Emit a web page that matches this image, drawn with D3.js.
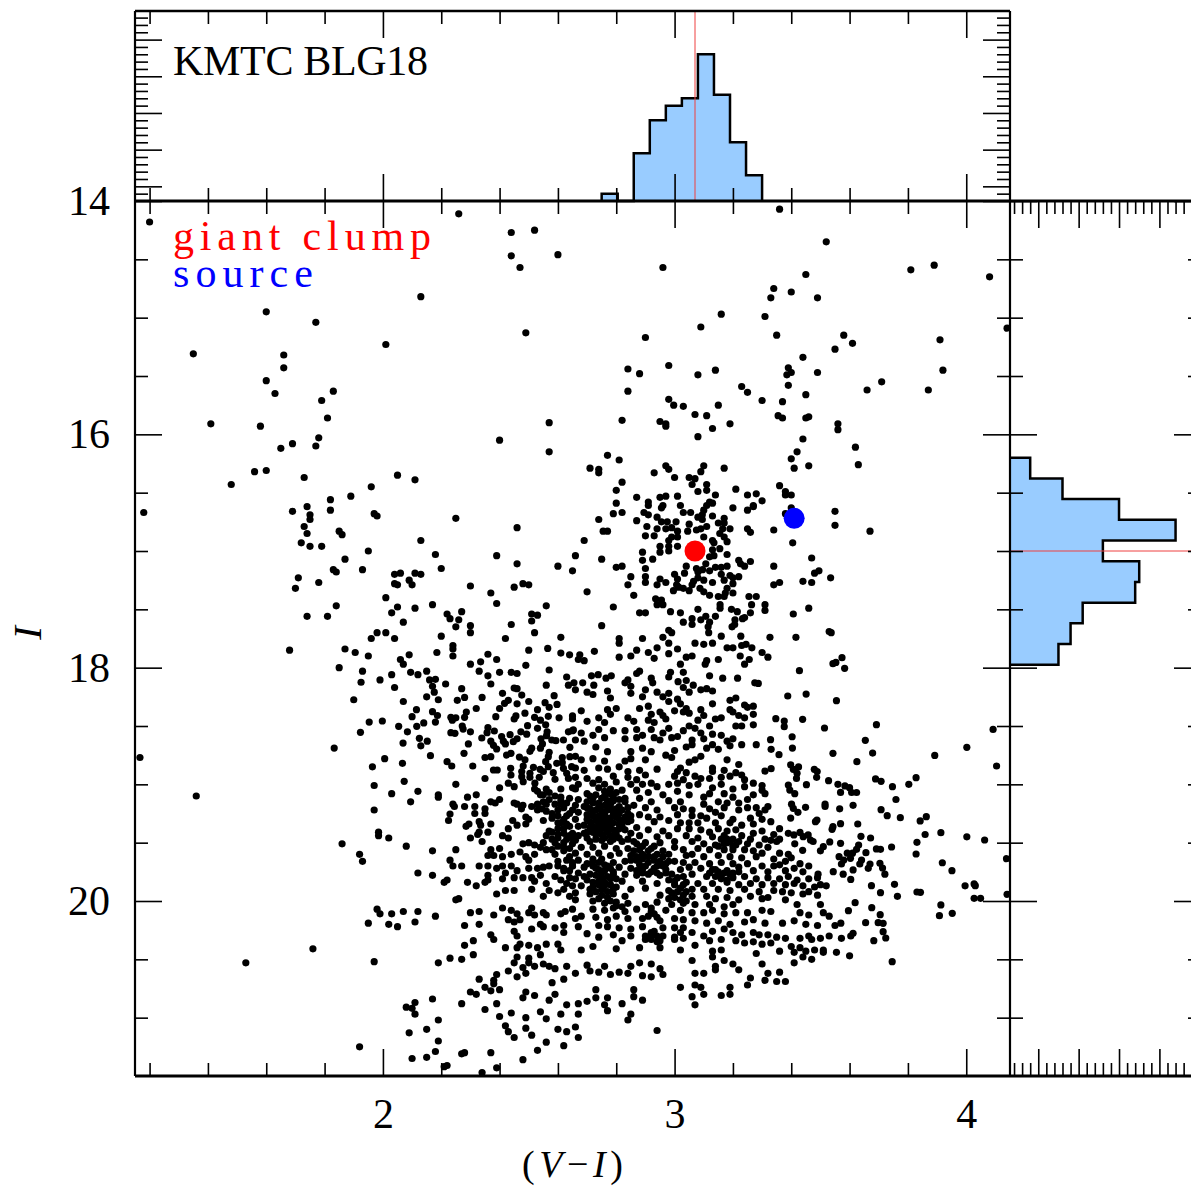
<!DOCTYPE html>
<html>
<head>
<meta charset="utf-8">
<script src="https://cdn.jsdelivr.net/npm/d3@7"></script>
<style>
body { margin: 0; background: #fff; overflow: hidden; }
text { font-family: "Liberation Serif", serif; }
</style>
</head>
<body>
<div id="chart"></div>
<script>
// colour-magnitude diagram, values as [V-I, I]
var brightStars = [[1.20,14.18],[2.26,14.11],[2.44,14.27],[2.52,14.25],[2.44,14.47],[2.47,14.57],[2.60,14.46],[2.13,14.82],[1.60,14.95],[1.77,15.04],[2.49,15.13],[2.01,15.23],[1.35,15.31],[1.66,15.32],[1.66,15.43],[1.60,15.54],[1.63,15.65],[1.83,15.63],[1.79,15.71],[1.81,15.86],[1.41,15.91],[1.58,15.93],[2.57,15.90],[2.40,16.05],[1.78,16.03],[1.69,16.08],[1.77,16.10],[1.65,16.12],[2.57,16.15],[1.56,16.32],[1.60,16.31],[1.48,16.43],[1.73,16.37],[2.05,16.35],[2.11,16.39],[1.96,16.45],[1.89,16.53],[1.82,16.56],[1.18,16.67],[1.69,16.66],[1.74,16.62],[1.82,16.65],[1.75,16.69],[1.75,16.73],[1.97,16.68],[1.98,16.70],[2.25,16.72],[1.73,16.79],[1.74,16.85],[1.85,16.83],[1.86,16.86],[2.46,16.80],[2.13,16.91],[1.72,16.93],[1.75,16.96],[1.79,16.96],[1.95,17.00],[2.18,17.03],[2.39,17.04],[1.87,17.07],[2.46,17.11],[2.20,17.15],[2.60,17.13],[2.65,17.17],[2.66,17.04],[1.93,17.16],[1.83,17.16],[1.84,17.18],[1.71,17.23],[1.78,17.27],[1.70,17.32],[2.04,17.20],[2.06,17.19],[2.11,17.19],[2.13,17.20],[2.09,17.25],[2.04,17.28],[2.05,17.29],[2.10,17.29],[2.30,17.30],[2.37,17.36],[2.45,17.31],[2.48,17.28],[2.50,17.29],[2.01,17.40],[2.39,17.45],[1.84,17.47],[2.05,17.48],[2.11,17.49],[2.17,17.46],[2.56,17.47],[1.74,17.56],[1.81,17.56],[2.03,17.53],[2.22,17.54],[2.27,17.52],[2.23,17.58],[2.26,17.59],[2.51,17.54],[2.53,17.55],[2.51,17.60],[2.07,17.61],[2.30,17.64],[2.25,17.65],[2.44,17.63],[1.98,17.70],[2.01,17.70],[2.30,17.70],[2.52,17.70],[2.20,17.73],[2.04,17.75],[1.96,17.75],[2.42,17.75],[2.61,17.74]];

var clumpStars = [[3.36,14.07],[3.52,14.35],[2.96,14.57],[3.81,14.59],[3.89,14.55],[4.08,14.65],[3.45,14.63],[3.34,14.75],[3.40,14.78],[3.33,14.83],[3.49,14.83],[4.14,15.09],[3.16,14.97],[3.31,14.99],[3.09,15.08],[3.35,15.15],[2.90,15.17],[3.58,15.15],[3.61,15.22],[3.55,15.27],[3.91,15.19],[3.44,15.34],[2.84,15.44],[2.98,15.41],[2.88,15.48],[3.08,15.49],[3.14,15.45],[3.39,15.43],[3.40,15.47],[3.385,15.49],[3.49,15.47],[3.92,15.45],[3.71,15.55],[2.84,15.63],[3.23,15.59],[3.25,15.64],[3.39,15.58],[3.66,15.62],[3.87,15.62],[3.45,15.66],[2.98,15.70],[3.30,15.71],[3.37,15.72],[2.997,15.75],[3.03,15.76],[3.15,15.75],[3.07,15.83],[3.11,15.84],[3.355,15.84],[3.37,15.86],[3.45,15.86],[3.46,15.85],[2.82,15.88],[2.95,15.89],[2.97,15.91],[2.97,15.93],[3.19,15.91],[3.13,15.95],[3.56,15.91],[3.56,15.96],[3.08,16.02],[3.44,16.04],[3.62,16.11],[3.42,16.15],[3.40,16.21],[2.77,16.18],[2.81,16.22],[2.71,16.29],[2.74,16.30],[2.74,16.33],[2.97,16.27],[2.98,16.30],[2.93,16.33],[3.10,16.27],[3.09,16.32],[3.17,16.29],[3.46,16.27],[3.41,16.29],[3.63,16.26],[3.00,16.37],[3.05,16.37],[3.07,16.38],[3.06,16.43],[2.82,16.41],[3.11,16.43],[3.36,16.44],[2.80,16.48],[3.11,16.48],[3.08,16.49],[3.21,16.47],[3.38,16.49],[3.38,16.52],[3.40,16.52],[3.25,16.52],[3.28,16.51],[3.01,16.53],[3.14,16.52],[2.87,16.54],[2.95,16.54],[2.97,16.53],[3.30,16.57],[2.80,16.59],[2.91,16.58],[2.91,16.61],[2.96,16.61],[2.955,16.63],[3.12,16.58],[3.13,16.59],[3.11,16.61],[3.02,16.61],[3.27,16.61],[3.27,16.62],[3.20,16.63],[3.25,16.65],[3.40,16.63],[3.55,16.66],[2.82,16.67],[2.79,16.68],[2.895,16.67],[2.91,16.69],[3.03,16.67],[3.055,16.67],[3.10,16.65],[3.095,16.69],[3.38,16.68],[2.94,16.71],[3.08,16.71],[3.13,16.70],[3.17,16.72],[2.74,16.73],[2.87,16.74],[2.955,16.75],[2.975,16.75],[3.005,16.75],[3.05,16.77],[3.095,16.73],[3.15,16.76],[3.17,16.76],[3.55,16.78],[2.905,16.79],[2.94,16.81],[2.97,16.81],[2.99,16.80],[3.075,16.82],[3.09,16.81],[3.11,16.79],[3.165,16.81],[3.19,16.81],[3.25,16.81],[3.34,16.82],[3.67,16.83],[2.755,16.83],[2.77,16.83],[3.01,16.83],[3.045,16.83],[3.26,16.84],[2.90,16.87],[2.93,16.87],[2.99,16.88],[3.01,16.88],[3.10,16.88],[3.155,16.85],[3.17,16.88],[2.69,16.91],[2.98,16.91],[3.13,16.91],[3.18,16.92],[3.405,16.93],[2.95,16.96],[2.98,16.96],[3.01,16.96],[3.135,16.93],[3.155,16.98],[3.13,16.99],[2.89,17.01],[2.95,17.01],[2.98,17.00],[3.18,17.03],[2.75,17.07],[2.89,17.08],[2.925,17.07],[3.12,17.05],[3.135,17.04],[3.47,17.06],[3.22,17.08],[3.26,17.09],[2.80,17.14],[2.82,17.13],[3.04,17.13],[3.107,17.11],[3.18,17.13],[3.226,17.11],[3.24,17.13],[3.34,17.13],[2.90,17.15],[3.075,17.15],[3.096,17.16],[3.14,17.14],[3.16,17.14],[3.12,17.17],[3.495,17.17],[3.48,17.19],[3.034,17.19],[3.00,17.20],[3.08,17.18],[3.16,17.20],[3.19,17.21],[2.85,17.22],[2.90,17.22],[3.22,17.22],[3.535,17.23],[2.95,17.24],[3.01,17.24],[3.08,17.23],[3.10,17.25],[3.17,17.25],[3.20,17.23],[3.44,17.26],[3.36,17.27],[2.84,17.29],[2.90,17.27],[2.94,17.29],[2.97,17.27],[3.065,17.26],[3.13,17.27],[3.20,17.28],[3.34,17.29],[3.47,17.27],[3.007,17.29],[3.06,17.29],[3.014,17.31],[3.03,17.32],[2.996,17.34],[3.05,17.34],[3.087,17.32],[3.18,17.32],[2.70,17.35],[3.10,17.35],[3.20,17.36],[3.174,17.36],[3.12,17.38],[2.86,17.38],[3.15,17.39],[3.17,17.39],[3.255,17.39],[3.28,17.39],[2.935,17.41],[2.955,17.42],[3.264,17.46],[3.31,17.46],[3.156,17.46],[2.94,17.46],[2.96,17.46],[2.79,17.48],[3.156,17.49],[3.195,17.50],[3.46,17.49],[3.08,17.50],[3.215,17.52],[2.986,17.52],[3.02,17.53],[2.88,17.53],[2.90,17.53],[3.26,17.53],[3.31,17.51],[3.407,17.54],[3.14,17.56],[3.107,17.56],[3.09,17.59],[3.06,17.58],[3.24,17.57],[3.233,17.58],[3.207,17.59],[3.03,17.61],[3.06,17.63],[3.12,17.61],[2.75,17.64],[3.206,17.63],[3.197,17.65],[3.115,17.65],[2.98,17.68],[2.99,17.70],[3.117,17.70],[3.53,17.69],[3.537,17.70],[3.16,17.73],[3.227,17.73],[3.327,17.74],[3.416,17.74],[2.81,17.75],[2.89,17.75],[2.96,17.74]];

var faintBlueStars = [[1.68,17.85],[1.87,17.84],[1.905,17.87],[1.95,17.90],[2.09,17.89],[2.06,17.93],[2.07,17.97],[1.85,18.00],[1.93,18.03],[2.15,18.03],[2.185,17.87],[2.24,17.81],[2.24,17.84],[2.24,17.90],[2.30,17.97],[2.335,17.95],[2.36,17.885],[2.39,17.93],[2.50,17.85],[2.565,17.835],[2.61,17.875],[2.64,17.89],[2.49,17.98],[2.33,18.03],[2.40,18.04],[2.44,18.04],[2.46,18.05],[2.57,18.02],[2.095,18.04],[2.12,18.06],[2.03,18.06],[2.36,18.07],[1.99,18.105],[1.925,18.125],[2.16,18.105],[2.18,18.10],[2.215,18.14],[2.37,18.14],[2.56,18.15],[2.63,18.08],[2.636,18.15],[2.04,18.17],[2.17,18.16],[2.27,18.18],[2.45,18.175],[2.46,18.18],[2.176,18.21],[2.41,18.22],[2.476,18.235],[2.587,18.24],[2.15,18.25],[2.28,18.255],[2.34,18.255],[1.90,18.275],[2.19,18.275],[2.255,18.28],[2.07,18.29],[2.43,18.28],[2.417,18.306],[2.46,18.31],[2.50,18.29],[2.556,18.30],[2.597,18.315],[2.40,18.35],[2.32,18.35],[2.57,18.34],[2.115,18.36],[2.53,18.36],[2.17,18.377],[2.286,18.38],[2.487,18.39],[2.187,18.41],[2.10,18.42],[2.28,18.426],[2.387,18.42],[2.456,18.414],[2.45,18.44],[2.52,18.426],[2.567,18.417],[2.604,18.43],[2.65,18.414],[2.233,18.426],[2.25,18.43],[2.238,18.45],[1.953,18.466],[1.998,18.457],[2.14,18.474],[2.18,18.466],[2.54,18.45],[2.054,18.503],[2.116,18.503],[2.272,18.50],[2.496,18.497],[2.558,18.49],[2.275,18.526],[2.36,18.514],[2.53,18.52],[2.084,18.55],[1.923,18.554],[2.233,18.557],[2.247,18.563],[2.30,18.55],[2.357,18.557],[2.382,18.543],[2.473,18.55],[2.563,18.55],[2.636,18.55],[2.653,18.534],[2.493,18.57],[2.436,18.574],[2.561,18.583],[2.339,18.603],[2.407,18.59],[2.46,18.61],[2.125,18.606],[2.542,18.61],[2.579,18.62],[2.619,18.62],[2.37,18.63],[2.413,18.63],[2.447,18.634],[2.593,18.626],[2.152,18.63],[2.069,18.646],[2.293,18.654],[2.379,18.666],[2.42,18.654],[2.547,18.654],[2.13,18.67],[1.833,18.689],[2.39,18.697],[2.51,18.69],[2.54,18.69],[2.641,18.683],[2.424,18.749],[2.439,18.734],[2.278,18.734],[2.504,18.717],[2.57,18.726],[2.163,18.754],[2.35,18.77],[2.37,18.763],[2.468,18.766],[2.567,18.763],[2.615,18.77],[2.641,18.763],[1.167,18.77],[2.006,18.78],[2.487,18.79],[2.22,18.806],[2.558,18.806],[2.596,18.82],[2.615,18.814],[2.067,18.82],[2.236,18.843],[2.308,18.843],[1.964,18.85],[2.516,18.854],[2.481,18.843],[2.567,18.849],[2.438,18.863],[2.379,18.877],[2.392,18.877],[2.539,18.871],[2.619,18.863],[2.647,18.849],[2.476,18.89],[2.504,18.906],[2.55,18.89],[2.439,18.92],[2.584,18.90],[2.63,18.906],[2.476,18.934],[2.504,18.94],[2.35,18.95],[2.536,18.94],[2.59,18.957],[2.636,18.949],[2.073,18.974],[2.481,18.977],[2.43,18.99],[2.521,18.99],[1.97,19.01],[2.25,19.00],[2.40,19.03],[2.45,19.02],[2.52,19.04],[2.56,19.04],[2.61,19.04],[2.65,19.03],[2.12,19.06],[2.03,19.08],[2.19,19.09],[2.19,19.11],[1.36,19.10],[2.32,19.09],[2.29,19.11],[2.095,19.15],[2.40,19.13],[2.37,19.15],[2.54,19.09],[2.57,19.13],[2.61,19.11],[2.64,19.12],[2.24,19.17],[2.245,19.19],[2.28,19.19],[2.315,19.19],[2.45,19.16],[2.46,19.17],[2.48,19.18],[2.475,19.21],[2.51,19.19],[2.53,19.17],[2.55,19.15],[2.53,19.22],[2.545,19.21],[2.56,19.17],[2.60,19.22],[2.61,19.17],[2.64,19.25],[2.35,19.21],[2.35,19.25],[2.315,19.25],[2.385,19.16],[1.97,19.22],[2.23,19.255],[2.225,19.31],[2.445,19.31],[2.49,19.28],[2.46,19.35],[2.49,19.34],[2.50,19.30],[2.295,19.34],[2.285,19.36],[2.33,19.32],[2.335,19.35],[2.37,19.34],[2.43,19.38],[2.55,19.31],[2.58,19.29],[2.60,19.33],[2.62,19.30],[2.64,19.36],[2.57,19.40],[1.985,19.41],[1.985,19.44],[2.02,19.46],[2.33,19.41],[2.325,19.43],[2.36,19.41],[2.30,19.46],[2.41,19.44],[2.43,19.46],[2.34,19.49],[2.60,19.43],[2.62,19.42],[2.58,19.47],[2.64,19.44],[2.55,19.50],[1.86,19.51],[1.92,19.60],[1.93,19.66],[2.08,19.53],[2.17,19.57],[2.25,19.56],[2.48,19.51],[2.50,19.50],[2.52,19.52],[2.54,19.54],[2.59,19.50],[2.62,19.50],[2.65,19.51],[2.37,19.56],[2.40,19.55],[2.36,19.61],[2.38,19.61],[2.41,19.62],[2.44,19.60],[2.47,19.58],[2.49,19.62],[2.50,19.65],[2.52,19.60],[2.56,19.56],[2.59,19.60],[2.62,19.57],[2.64,19.62],[2.23,19.65],[2.24,19.70],[2.27,19.70],[2.33,19.70],[2.36,19.70],[2.39,19.72],[2.41,19.70],[2.44,19.70],[2.46,19.74],[2.50,19.72],[2.53,19.72],[2.55,19.71],[2.57,19.70],[2.60,19.70],[2.62,19.74],[2.65,19.70],[2.12,19.76],[2.17,19.78],[2.22,19.82],[2.21,19.84],[2.29,19.84],[2.32,19.87],[2.36,19.78],[2.36,19.82],[2.35,19.84],[2.42,19.76],[2.41,19.81],[2.45,19.80],[2.48,19.80],[2.51,19.80],[2.54,19.78],[2.52,19.83],[2.59,19.79],[2.61,19.82],[2.64,19.80],[2.56,19.85],[2.63,19.85],[2.65,19.87],[2.25,19.99],[2.45,19.91],[2.42,19.91],[2.39,19.94],[2.51,19.90],[2.57,19.91],[2.55,19.96],[2.60,19.93],[2.62,19.90],[2.64,19.96],[2.26,19.98],[1.98,20.07],[1.99,20.11],[2.03,20.11],[2.07,20.09],[2.12,20.09],[2.18,20.13],[2.30,20.10],[2.33,20.09],[2.38,20.12],[2.41,20.06],[2.44,20.08],[2.46,20.11],[2.51,20.06],[2.50,20.10],[2.52,20.12],[2.55,20.10],[2.56,20.12],[2.61,20.11],[2.625,20.09],[2.65,20.07],[1.95,20.19],[2.02,20.20],[2.05,20.22],[2.11,20.18],[2.28,20.21],[2.33,20.20],[2.43,20.16],[2.45,20.18],[2.47,20.16],[2.51,20.24],[2.54,20.20],[2.55,20.22],[2.59,20.23],[2.62,20.27],[2.62,20.21],[2.45,20.26],[2.46,20.30],[2.38,20.33],[2.37,20.29],[2.31,20.34],[2.28,20.38],[2.42,20.40],[2.47,20.37],[2.46,20.40],[2.50,20.38],[2.53,20.40],[2.56,20.37],[2.60,20.37],[2.61,20.42],[1.76,20.41],[1.53,20.53],[1.97,20.52],[2.19,20.53],[2.23,20.49],[2.27,20.50],[2.31,20.46],[2.46,20.48],[2.50,20.49],[2.54,20.46],[2.50,20.53],[2.52,20.56],[2.45,20.53],[2.43,20.60],[2.48,20.57],[2.49,20.62],[2.55,20.54],[2.57,20.56],[2.59,20.58],[2.63,20.56],[2.46,20.65],[2.33,20.67],[2.39,20.63],[2.30,20.78],[2.35,20.74],[2.38,20.68],[2.38,20.71],[2.37,20.77],[2.40,20.76],[2.49,20.78],[2.48,20.83],[2.52,20.81],[2.57,20.85],[2.59,20.80],[2.58,20.70],[2.62,20.67],[2.08,20.91],[2.11,20.87],[2.10,20.92],[2.11,20.97],[2.17,20.84],[2.27,20.88],[2.32,20.80],[2.35,20.93],[2.39,20.88],[2.40,20.99],[2.44,20.96],[2.49,21.00],[2.54,20.95],[2.56,21.01],[2.61,20.97],[2.63,20.89],[2.42,21.07],[2.49,21.09],[2.43,21.12],[2.60,21.10],[2.63,21.12],[2.66,21.08],[2.15,21.10],[2.19,21.20],[2.09,21.13],[2.19,21.02],[1.92,21.25],[2.18,21.29],[2.28,21.30],[2.27,21.31],[2.37,21.30],[2.51,21.15],[2.45,21.17],[2.56,21.21],[2.62,21.24],[2.53,21.28],[2.48,21.36],[2.21,21.42],[2.10,21.35],[2.15,21.34],[2.34,21.47],[2.22,21.41],[2.39,21.43]];

var faintRedStars = [[2.81,17.79],[2.98,17.79],[3.07,17.79],[3.10,17.80],[3.13,17.79],[3.18,17.83],[3.20,17.83],[3.23,17.81],[3.245,17.80],[3.265,17.83],[2.94,17.83],[3.01,17.84],[2.725,17.86],[2.675,17.89],[2.87,17.85],[2.91,17.87],[2.98,17.88],[3.30,17.87],[3.32,17.91],[2.81,17.91],[2.85,17.90],[2.93,17.92],[3.04,17.91],[3.06,17.90],[3.225,17.90],[2.67,17.93],[2.69,17.94],[3.11,17.94],[3.105,17.97],[3.15,17.93],[3.24,17.97],[3.256,17.93],[3.02,17.97],[2.88,18.03],[2.87,18.05],[2.986,18.04],[2.98,18.08],[3.03,18.04],[2.715,18.07],[2.738,18.06],[2.765,18.09],[2.783,18.07],[3.12,18.07],[3.165,18.09],[3.216,18.09],[2.92,18.09],[2.655,18.13],[2.685,18.13],[2.723,18.15],[2.83,18.13],[2.84,18.105],[2.85,18.16],[2.925,18.13],[3.012,18.12],[3.04,18.11],[3.064,18.15],[3.275,18.13],[3.287,18.135],
[3.574,17.914],[3.553,17.955],[3.543,17.966],[3.583,18.006],[3.428,18.026],[3.388,18.243],[3.451,18.226],[3.555,18.283],[3.439,18.443],[3.347,18.437],[3.376,18.457],[3.376,18.506],[3.514,18.517],[3.692,18.489],[4.092,18.529],[3.403,18.592],[3.654,18.623],[3.329,18.617],[3.331,18.70],[3.404,18.689],[4.002,18.683],[3.543,18.734],[3.679,18.732],[3.892,18.752],[3.358,18.746],[3.625,18.806],[4.104,18.843],[3.398,18.832],[3.425,18.851],[3.407,18.871],[3.42,18.906],[3.479,18.871],[3.489,18.89],[3.487,18.94],[3.31,18.886],[3.331,18.866],[3.418,18.949],[3.528,18.969],[3.689,18.954],[3.708,18.974],[3.828,18.943],[3.803,19.00],[3.747,19.02],[3.452,19.003],[3.39,19.006],[3.395,19.049],[3.56,19.00],[3.584,19.014],[3.60,19.029],[3.569,19.069],[3.607,19.07],[3.624,19.07],[3.412,19.08],[3.759,19.13],[3.516,19.17],[3.516,19.19],[3.612,19.18],[3.401,19.17],[3.407,19.206],[3.423,19.24],[3.449,19.197],[3.566,19.21],[3.708,19.217],[3.729,19.269],[3.774,19.286],[3.863,19.277],[3.842,19.314],[3.398,19.289],[3.488,19.306],[3.483,19.32],[3.543,19.363],[3.54,19.386],[3.569,19.337],[3.628,19.34],[3.913,19.414],[3.859,19.43],[4.002,19.45],[4.063,19.477],[3.831,19.497],[3.639,19.446],[3.672,19.46],[3.409,19.434],[3.43,19.412],[3.441,19.449],[3.458,19.434],[3.466,19.477],[3.475,19.49],[3.412,19.51],[3.532,19.494],[3.569,19.506],[3.51,19.534],[3.50,19.57],[3.439,19.566],[3.744,19.537],[3.692,19.554],[3.706,19.557],[3.828,19.597],[3.631,19.52],[3.624,19.557],[3.61,19.59],[3.656,19.586],[3.592,19.59],[3.564,19.62],[3.603,19.634],[3.58,19.649],[3.572,19.683],[3.641,19.649],[3.635,19.683],[3.67,19.683],[3.704,19.677],[3.713,19.717],[3.918,19.672],[4.138,19.637],[3.951,19.74],[3.612,19.734],[3.544,19.749],[3.578,19.77],[3.492,19.77],[3.721,19.77],[3.664,19.72],[3.675,19.869],[3.604,19.815],[3.754,19.857],[3.706,19.929],[3.764,19.96],[3.831,19.923],[3.843,19.926],[3.996,19.87],[4.027,19.854],[4.031,19.869],[4.027,19.977],[4.049,19.977],[4.14,19.943],[3.619,20.014],[3.596,20.083],[3.676,20.057],[3.913,20.034],[3.908,20.126],[3.952,20.106],[3.705,20.117],[3.655,20.186],[3.698,20.186],[3.715,20.191],[3.715,20.263],[3.724,20.317],[3.683,20.34],[3.612,20.277],[3.604,20.30],[3.572,20.32],[3.555,20.44],[3.746,20.52],
[2.66,18.19],[2.70,18.21],[2.72,18.23],[2.77,18.20],[2.78,18.26],[2.85,18.22],[2.90,18.19],[2.89,18.25],[2.94,18.21],[2.96,18.25],[2.98,18.22],[3.03,18.17],[3.05,18.21],[3.09,18.19],[3.11,18.18],[3.13,18.20],[3.19,18.28],[3.21,18.26],[3.24,18.32],[3.25,18.34],[3.27,18.33],[2.68,18.37],[2.77,18.36],[2.80,18.35],[2.88,18.35],[2.91,18.33],[2.98,18.29],[3.01,18.27],[3.02,18.31],[3.04,18.35],[3.09,18.36],[3.13,18.31],[3.19,18.36],[3.20,18.38],[3.05,18.39],[2.92,18.40],[2.95,18.38],[2.96,18.41],[3.00,18.37],[3.03,18.38],[3.10,18.41],[3.14,18.44],[3.16,18.43],[3.22,18.41],[3.24,18.43],[3.27,18.40],[2.65,18.44],[2.70,18.46],[2.74,18.43],[2.76,18.47],[2.78,18.40],[2.84,18.43],[2.86,18.46],[2.91,18.45],[2.93,18.47],[2.97,18.44],[3.08,18.45],[3.12,18.50],[3.21,18.50],[3.23,18.50],[3.27,18.49],[2.65,18.54],[2.68,18.56],[2.72,18.58],[2.74,18.53],[2.79,18.54],[2.83,18.54],[2.87,18.53],[2.89,18.58],[2.92,18.53],[2.96,18.56],[2.98,18.52],[3.03,18.54],[3.05,18.50],[3.07,18.52],[3.09,18.56],[3.13,18.57],[3.16,18.58],[3.20,18.61],[2.66,18.62],[2.69,18.63],[2.76,18.60],[2.83,18.61],[2.87,18.60],[2.93,18.60],[2.95,18.62],[2.99,18.60],[3.01,18.59],[3.06,18.62],[3.10,18.61],[3.18,18.63],[3.23,18.66],[3.28,18.66],[2.77,18.72],[2.73,18.68],[2.85,18.72],[2.89,18.69],[2.92,18.72],[2.97,18.75],[3.00,18.71],[3.04,18.68],[3.06,18.66],[3.11,18.69],[3.13,18.66],[3.15,18.70],[3.19,18.67],[2.66,18.76],[2.68,18.79],[2.72,18.78],[2.76,18.80],[2.81,18.85],[2.83,18.80],[2.85,18.78],[2.90,18.79],[2.94,18.87],[2.99,18.77],[3.02,18.86],[3.05,18.81],[3.07,18.79],[3.09,18.76],[3.13,18.86],[3.18,18.79],[3.22,18.83],[2.66,18.86],[2.69,18.88],[2.74,18.86],[2.77,18.87],[2.84,18.89],[2.88,18.88],[2.90,18.92],[3.01,18.89],[3.04,18.90],[3.07,18.93],[3.13,18.89],[3.17,18.88],[3.21,18.90],[3.23,18.92],[2.66,18.94],[2.70,18.95],[2.74,18.96],[2.79,18.93],[2.84,18.94],[2.87,18.96],[2.92,18.99],[3.00,18.93],[3.03,18.96],[3.09,18.95],[3.12,18.95],[3.16,18.94],[3.19,18.93],[3.24,18.96],[3.27,18.99],[3.30,19.01],[2.67,19.00],[2.72,18.99],[2.76,19.00],[2.80,18.98],[2.85,19.00],[2.89,19.00],[2.94,19.02],[2.98,19.00],[3.01,18.99],[3.05,19.01],[3.08,19.00],[3.13,19.03],[3.16,19.00],[3.20,19.04],[3.24,19.02],[3.30,19.05],[2.66,19.04],[2.70,19.08],[2.78,19.04],[2.82,19.05],[2.87,19.05],[2.91,19.07],[2.96,19.09],[3.01,19.06],[3.05,19.09],[3.10,19.11],[3.12,19.08],[3.17,19.08],[3.20,19.11],[3.25,19.13],[3.27,19.09],[3.31,19.08],[2.67,19.13],[2.72,19.12],[2.76,19.10],[2.79,19.11],[2.83,19.12],[2.88,19.12],[2.92,19.15],[2.98,19.14],[3.02,19.15],[3.10,19.17],[3.15,19.15],[3.18,19.16],[3.22,19.16],[3.28,19.20],[3.32,19.19],[2.66,19.18],[2.70,19.20],[2.74,19.16],[2.78,19.17],[2.81,19.19],[2.86,19.18],[2.90,19.20],[2.94,19.22],[3.00,19.20],[3.03,19.21],[3.06,19.22],[3.12,19.21],[3.14,19.24],[3.17,19.20],[3.22,19.22],[3.25,19.20],[3.29,19.25],[3.31,19.22],[2.67,19.24],[2.72,19.23],[2.76,19.25],[2.79,19.24],[2.84,19.25],[2.88,19.26],[2.91,19.28],[2.95,19.28],[3.01,19.26],[3.06,19.27],[3.09,19.27],[3.11,19.29],[3.16,19.27],[3.20,19.30],[3.26,19.29],[3.30,19.30],[3.33,19.32],[2.66,19.30],[2.70,19.30],[2.75,19.31],[2.77,19.29],[2.81,19.30],[2.85,19.31],[2.93,19.32],[2.98,19.31],[3.02,19.33],[3.05,19.33],[3.08,19.33],[3.14,19.33],[3.19,19.33],[3.23,19.35],[3.27,19.34],[3.36,19.38],[3.39,19.42],[2.67,19.36],[2.72,19.36],[2.75,19.38],[2.78,19.35],[2.82,19.36],[2.87,19.37],[2.91,19.39],[2.96,19.40],[3.01,19.38],[3.05,19.38],[3.09,19.39],[3.12,19.41],[3.15,19.38],[3.18,19.40],[3.21,19.39],[3.27,19.42],[3.30,19.40],[3.34,19.43],[3.36,19.47],[2.65,19.42],[2.69,19.42],[2.73,19.43],[2.77,19.41],[2.80,19.43],[2.85,19.42],[2.88,19.44],[2.94,19.45],[2.98,19.44],[3.04,19.44],[3.08,19.46],[3.13,19.45],[3.17,19.44],[3.20,19.47],[3.23,19.44],[3.26,19.47],[3.31,19.47],[3.33,19.48],[2.66,19.48],[2.71,19.49],[2.75,19.48],[2.79,19.47],[2.82,19.49],[2.86,19.49],[2.90,19.50],[2.95,19.50],[3.00,19.49],[3.06,19.49],[3.10,19.51],[3.14,19.52],[3.18,19.50],[3.21,19.52],[3.25,19.51],[3.29,19.52],[3.32,19.54],[3.35,19.49],[2.68,19.54],[2.72,19.54],[2.76,19.53],[2.80,19.55],[2.84,19.55],[2.88,19.56],[2.92,19.55],[2.96,19.57],[3.00,19.54],[3.03,19.56],[3.08,19.55],[3.12,19.56],[3.17,19.56],[3.20,19.56],[3.24,19.56],[3.27,19.57],[3.30,19.59],[3.36,19.59],[3.39,19.60],[2.66,19.59],[2.70,19.60],[2.74,19.59],[2.78,19.61],[2.81,19.59],[2.85,19.61],[2.89,19.60],[2.93,19.62],[2.98,19.60],[3.04,19.61],[3.06,19.60],[3.10,19.62],[3.15,19.61],[3.19,19.62],[3.23,19.63],[3.28,19.62],[3.34,19.64],[3.38,19.66],[3.40,19.63],[2.67,19.65],[2.72,19.66],[2.75,19.64],[2.79,19.67],[2.83,19.66],[2.87,19.65],[2.91,19.67],[2.95,19.66],[3.00,19.66],[3.03,19.67],[3.07,19.67],[3.12,19.68],[3.16,19.67],[3.20,19.68],[3.25,19.68],[3.30,19.70],[3.34,19.70],[3.36,19.69],[3.43,19.68],[3.46,19.70],[2.65,19.70],[2.69,19.71],[2.73,19.72],[2.77,19.70],[2.81,19.71],[2.85,19.72],[2.89,19.73],[2.93,19.72],[2.97,19.73],[3.02,19.73],[3.05,19.71],[3.09,19.72],[3.14,19.73],[3.18,19.74],[3.22,19.75],[3.27,19.74],[3.32,19.75],[3.38,19.74],[3.41,19.72],[3.44,19.75],[2.67,19.76],[2.71,19.77],[2.75,19.76],[2.79,19.75],[2.83,19.77],[2.87,19.78],[2.91,19.77],[2.95,19.78],[2.99,19.77],[3.03,19.79],[3.06,19.77],[3.11,19.79],[3.16,19.79],[3.20,19.80],[3.24,19.79],[3.28,19.81],[3.32,19.80],[3.36,19.81],[3.39,19.79],[3.42,19.82],[3.46,19.81],[3.49,19.80],[2.66,19.81],[2.70,19.82],[2.74,19.83],[2.78,19.81],[2.82,19.83],[2.89,19.83],[2.94,19.85],[3.00,19.83],[3.04,19.84],[3.08,19.85],[3.13,19.85],[3.18,19.84],[3.22,19.86],[3.26,19.85],[3.30,19.86],[3.34,19.85],[3.38,19.86],[3.41,19.85],[3.44,19.87],[3.48,19.88],[3.50,19.86],[3.52,19.87],[2.68,19.87],[2.72,19.88],[2.76,19.87],[2.80,19.88],[2.85,19.90],[2.90,19.89],[2.98,19.91],[3.02,19.89],[3.06,19.90],[3.10,19.90],[3.15,19.90],[3.19,19.91],[3.24,19.90],[3.29,19.92],[3.34,19.91],[3.37,19.92],[3.40,19.93],[3.44,19.94],[3.46,19.92],[3.49,19.95],[2.66,19.93],[2.71,19.94],[2.75,19.95],[2.79,19.94],[2.83,19.96],[2.95,19.95],[3.00,19.97],[3.03,19.95],[3.06,19.96],[3.11,19.96],[3.14,19.98],[3.18,19.97],[3.22,19.99],[3.26,19.96],[3.30,19.98],[3.32,19.97],[3.38,19.99],[2.66,19.99],[2.72,20.00],[2.76,20.02],[2.80,20.01],[2.84,20.02],[2.90,20.03],[2.94,20.01],[2.99,20.03],[3.03,20.02],[3.07,20.03],[3.12,20.03],[3.17,20.05],[3.20,20.03],[3.42,20.03],[3.50,20.03],[2.72,20.07],[2.76,20.08],[2.79,20.06],[2.83,20.09],[2.87,20.07],[2.92,20.09],[2.97,20.08],[3.02,20.08],[3.06,20.10],[3.10,20.10],[3.13,20.08],[3.17,20.11],[3.21,20.10],[3.25,20.10],[3.30,20.08],[3.33,20.09],[3.43,20.10],[3.46,20.12],[3.51,20.10],[3.53,20.13],[2.66,20.15],[2.68,20.13],[2.73,20.14],[2.77,20.16],[2.80,20.13],[2.84,20.15],[2.89,20.15],[2.95,20.17],[3.00,20.15],[3.03,20.16],[3.07,20.17],[3.11,20.19],[3.15,20.17],[3.19,20.20],[3.24,20.18],[3.27,20.16],[3.31,20.19],[3.37,20.19],[3.41,20.17],[3.45,20.20],[3.49,20.21],[3.55,20.21],[3.57,20.19],[2.67,20.22],[2.74,20.21],[2.77,20.22],[2.81,20.23],[2.85,20.24],[2.89,20.22],[2.93,20.26],[2.96,20.23],[3.00,20.23],[3.03,20.23],[3.06,20.27],[3.13,20.26],[3.17,20.24],[3.20,20.27],[3.23,20.29],[3.27,20.27],[3.29,20.29],[3.32,20.29],[3.35,20.31],[3.38,20.32],[3.43,20.32],[3.46,20.30],[3.47,20.33],[3.50,20.32],[3.53,20.30],[2.70,20.28],[2.74,20.31],[2.79,20.29],[2.82,20.34],[2.85,20.30],[2.90,20.33],[2.92,20.30],[2.95,20.34],[3.00,20.33],[3.03,20.32],[3.10,20.30],[3.12,20.34],[3.16,20.33],[3.21,20.34],[3.24,20.36],[3.27,20.35],[3.30,20.37],[3.33,20.36],[3.40,20.39],[3.43,20.40],[3.45,20.43],[3.48,20.42],[3.51,20.42],[2.68,20.42],[2.72,20.39],[2.80,20.41],[2.88,20.40],[2.95,20.40],[3.02,20.42],[3.07,20.38],[3.13,20.43],[3.16,20.42],[3.28,20.45],[3.36,20.43],[3.41,20.44],[3.44,20.48],[3.51,20.44],[3.60,20.47],[2.70,20.55],[2.76,20.56],[2.85,20.56],[2.88,20.53],[2.92,20.54],[2.95,20.58],[3.06,20.51],[3.13,20.48],[3.17,20.51],[3.14,20.56],[3.20,20.54],[3.22,20.59],[3.30,20.54],[3.32,20.62],[3.41,20.53],[3.47,20.50],[2.66,20.62],[2.71,20.60],[2.74,20.61],[2.78,20.63],[2.81,20.61],[2.84,20.62],[2.89,20.64],[2.92,20.65],[2.96,20.63],[3.07,20.62],[3.10,20.62],[3.14,20.59],[3.36,20.61],[3.26,20.66],[3.31,20.68],[3.35,20.69],[3.38,20.69],[3.02,20.74],[3.07,20.72],[3.09,20.74],[3.10,20.80],[3.06,20.82],[3.16,20.81],[3.19,20.80],[3.19,20.74],[3.25,20.72],[2.86,20.76],[2.86,20.82],[2.73,20.76],[2.77,20.83],[2.73,20.83],[2.89,20.85],[2.67,20.88],[2.70,20.86],[2.76,20.89],[2.82,20.88],[3.07,20.89],[2.67,20.97],[2.77,20.94],[2.85,20.97],[2.94,21.11],[2.84,21.02],[2.67,21.17]];

// the crowded knot around V-I 2.75, I 19.3 and the arcs next to it
var coreStars = [[2.74,19.03],[2.76,19.06],[2.78,19.08],[2.80,19.07],[2.71,19.10],[2.73,19.09],[2.75,19.12],[2.77,19.14],[2.79,19.14],[2.81,19.13],[2.83,19.15],[2.70,19.15],[2.72,19.16],[2.74,19.19],[2.76,19.18],[2.78,19.20],[2.80,19.21],[2.82,19.22],[2.84,19.20],[2.69,19.19],[2.71,19.21],[2.73,19.22],[2.75,19.23],[2.77,19.22],[2.79,19.26],[2.81,19.25],[2.83,19.28],[2.85,19.27],[2.70,19.26],[2.72,19.27],[2.74,19.27],[2.76,19.28],[2.78,19.29],[2.80,19.28],[2.82,19.32],[2.84,19.32],[2.71,19.32],[2.73,19.31],[2.74,19.33],[2.76,19.33],[2.77,19.32],[2.79,19.33],[2.81,19.34],[2.69,19.35],[2.71,19.37],[2.73,19.38],[2.74,19.36],[2.76,19.37],[2.77,19.38],[2.79,19.39],[2.81,19.38],[2.83,19.39],[2.70,19.41],[2.72,19.41],[2.74,19.41],[2.75,19.43],[2.78,19.44],[2.80,19.40],[2.67,19.44],[2.70,19.46],[2.73,19.47],[2.76,19.46],[2.78,19.49],[2.81,19.46],[2.84,19.47],[2.87,19.51],[2.89,19.53],[2.91,19.57],[2.93,19.53],[2.94,19.60],[2.96,19.62],[2.86,19.57],[2.87,19.62],[2.89,19.64],[2.91,19.62],[2.93,19.65],[2.97,19.68],[2.85,19.65],[2.88,19.69],[2.90,19.70],[2.94,19.70],[2.96,19.70],[2.98,19.66],[2.87,19.74],[2.89,19.76],[2.92,19.75],[2.94,19.76],[2.97,19.76],[2.72,19.64],[2.74,19.67],[2.76,19.69],[2.78,19.72],[2.70,19.68],[2.72,19.70],[2.74,19.73],[2.76,19.74],[2.79,19.77],[2.73,19.78],[2.75,19.80],[2.77,19.79],[2.80,19.81],[2.72,19.84],[2.74,19.86],[2.76,19.84],[2.78,19.86],[2.69,19.79],[2.71,19.90],[2.73,19.92],[2.75,19.90],[2.77,19.92],[2.79,19.90],[2.74,19.98],[2.77,19.97],[2.78,20.00],[2.80,20.04],[2.82,20.05],[2.98,19.82],[3.00,19.86],[3.01,19.80],[3.03,19.86],[2.99,19.93],[3.01,19.92],[3.04,19.92],[3.02,19.99],[3.04,20.00],[2.98,19.98],[2.92,20.06],[2.93,20.11],[2.91,20.13],[2.94,20.14],[2.92,20.27],[2.94,20.30],[2.92,20.33],[2.94,20.35],[2.96,20.30],[2.90,20.30],[3.00,20.31],[3.02,20.27],[3.13,19.73],[3.15,19.75],[3.17,19.76],[3.19,19.77],[3.14,19.79],[3.16,19.81],[3.18,19.82],[3.20,19.76],[3.22,19.71],[3.12,19.76],[3.16,19.47],[3.18,19.47],[3.19,19.49],[3.17,19.51],[3.20,19.53],[3.22,19.49],[3.15,19.53],[2.53,19.06],[2.55,19.09],[2.57,19.07],[2.59,19.10],[2.61,19.14],[2.63,19.16],[2.59,19.17],[2.62,19.20],[2.56,19.23],[2.58,19.25],[2.60,19.27],[2.63,19.27],[2.65,19.22],[2.61,19.33],[2.63,19.34],[2.60,19.38],[2.62,19.38],[2.58,19.41],[2.60,19.46],[2.63,19.47],[2.56,19.44],[2.65,19.46],[2.60,19.53],[2.62,19.54],[2.64,19.55],[2.58,19.56],[2.63,19.65],[2.65,19.67],[2.60,19.66],[2.62,19.72],[2.64,19.74]];

var giantClumpPoint = [3.07, 17.0];
var sourcePoint = [3.41, 16.72];

// histogram of V-I (top panel)
var colorBinEdges = [2.75, 2.805, 2.86, 2.915, 2.97, 3.025, 3.08, 3.135, 3.19, 3.245, 3.30];
var colorCounts = [2, 0, 13, 22, 26, 28, 40, 29, 16, 7];

// histogram of I (right panel)
var magBinEdges = [16.2, 16.378, 16.555, 16.733, 16.91, 17.088, 17.265, 17.443, 17.62, 17.798, 17.975];
var magCounts = [5, 13, 27, 41, 23, 32, 31, 18, 15, 12];

var colorMajorTicks = [2, 3, 4];
var colorMinorTicks = [1.2, 1.4, 1.6, 1.8, 2.2, 2.4, 2.6, 2.8, 3.2, 3.4, 3.6, 3.8];
var magMajorTicks = [14, 16, 18, 20];
var magMinorTicks = [14.5, 15, 15.5, 16.5, 17, 17.5, 18.5, 19, 19.5, 20.5, 21];
var topCountMajorTicks = [4, 14, 24, 34, 44];
var topCountMinorTicks = [2, 6, 8, 10, 12, 16, 18, 20, 22, 26, 28, 30, 32, 36, 38, 40, 42, 46, 48, 50];
var rightCountMajorTicks = [7, 17, 27, 37];
var rightCountMinorTicks = [1, 3, 5, 9, 11, 13, 15, 19, 21, 23, 25, 29, 31, 33, 35, 39, 41, 43];

var svgWidth = 1191;
var svgHeight = 1187;
var left = 135, right = 1010, top_ = 201, bottom = 1076, topPanelTop = 11, sideRight = 1201;
var majorLen = 27, minorLen = 13;

var svg = d3.select("#chart").append("svg")
  .attr("width", svgWidth)
  .attr("height", svgHeight)
  .style("display", "block");

var x = d3.scaleLinear().domain([1.15, 4.15]).range([left, right]);
var y = d3.scaleLinear().domain([14, 21.5]).range([top_, bottom]);
var topCount = d3.scaleLinear().domain([0, 51.8]).range([top_, topPanelTop]);
var rightCount = d3.scaleLinear().domain([0, 47.3]).range([right, sideRight]);

// step outline of a histogram, as [edge, count] pairs
function stepPoints(edges, counts) {
  var pts = [[edges[0], 0]];
  counts.forEach(function(c, i) {
    pts.push([edges[i], c]);
    pts.push([edges[i + 1], c]);
  });
  pts.push([edges[edges.length - 1], 0]);
  return pts;
}

var topLine = d3.line().x(d => x(d[0])).y(d => topCount(d[1]));
svg.append("path")
  .attr("d", topLine(stepPoints(colorBinEdges, colorCounts)))
  .attr("fill", "#99ccff")
  .attr("stroke", "#000")
  .attr("stroke-width", 2.5);

var rightLine = d3.line().x(d => rightCount(d[1])).y(d => y(d[0]));
svg.append("path")
  .attr("d", rightLine(stepPoints(magBinEdges, magCounts)))
  .attr("fill", "#99ccff")
  .attr("stroke", "#000")
  .attr("stroke-width", 2.5);

// red cross hairs through the clump
svg.append("line")
  .attr("x1", x(giantClumpPoint[0])).attr("x2", x(giantClumpPoint[0]))
  .attr("y1", topPanelTop).attr("y2", top_)
  .attr("stroke", "#ee4040").attr("stroke-width", 1);
svg.append("line")
  .attr("x1", right).attr("x2", sideRight)
  .attr("y1", y(giantClumpPoint[1])).attr("y2", y(giantClumpPoint[1]))
  .attr("stroke", "#ee4040").attr("stroke-width", 1);

// one axis of bare tick marks
function tickAxis(axisFn, scale, values, len, tx, ty) {
  var g = svg.append("g")
    .attr("transform", `translate(${tx}, ${ty})`)
    .call(axisFn(scale).tickValues(values).tickSize(len).tickFormat(""));
  g.select(".domain").remove();
  g.selectAll("line").attr("stroke", "#000").attr("stroke-width", 1.6);
}

function tickPair(axisFn, scale, major, minor, tx, ty, sign) {
  tickAxis(axisFn, scale, major, sign * majorLen, tx, ty);
  tickAxis(axisFn, scale, minor, sign * minorLen, tx, ty);
}

// V-I ticks on the top panel and the main panel
tickPair(d3.axisTop, x, colorMajorTicks, colorMinorTicks, 0, topPanelTop, -1);
tickPair(d3.axisTop, x, colorMajorTicks, colorMinorTicks, 0, top_, 1);
tickPair(d3.axisBottom, x, colorMajorTicks, colorMinorTicks, 0, top_, 1);
tickPair(d3.axisBottom, x, colorMajorTicks, colorMinorTicks, 0, bottom, -1);

// I ticks on the main panel and the side panel
tickPair(d3.axisRight, y, magMajorTicks, magMinorTicks, left, 0, 1);
tickPair(d3.axisLeft, y, magMajorTicks, magMinorTicks, right, 0, 1);
tickPair(d3.axisRight, y, magMajorTicks, magMinorTicks, right, 0, 1);
tickPair(d3.axisLeft, y, magMajorTicks, magMinorTicks, sideRight, 0, 1);

// count ticks
tickPair(d3.axisRight, topCount, topCountMajorTicks, topCountMinorTicks, left, 0, 1);
tickPair(d3.axisLeft, topCount, topCountMajorTicks, topCountMinorTicks, right, 0, 1);
tickPair(d3.axisBottom, rightCount, rightCountMajorTicks, rightCountMinorTicks, 0, top_, 1);
tickPair(d3.axisTop, rightCount, rightCountMajorTicks, rightCountMinorTicks, 0, bottom, 1);

// frames
function frameLine(x1, y1, x2, y2, w) {
  svg.append("line")
    .attr("x1", x1).attr("y1", y1).attr("x2", x2).attr("y2", y2)
    .attr("stroke", "#000").attr("stroke-width", w);
}
frameLine(left, topPanelTop, right, topPanelTop, 2.4);
frameLine(left, topPanelTop, left, bottom, 2.2);
frameLine(right, topPanelTop, right, bottom, 2.2);
frameLine(left, top_, sideRight, top_, 3);
frameLine(left, bottom, sideRight, bottom, 3);

// stars
svg.append("clipPath").attr("id", "mainClip").append("rect")
  .attr("x", left).attr("y", top_).attr("width", right - left).attr("height", bottom - top_);

var allStars = brightStars.concat(clumpStars, faintBlueStars, faintRedStars, coreStars);
svg.append("g").attr("clip-path", "url(#mainClip)")
  .selectAll("circle")
  .data(allStars)
  .enter()
  .append("circle")
  .attr("cx", d => x(d[0]))
  .attr("cy", d => y(d[1]))
  .attr("r", 3.6)
  .attr("fill", "#000");

svg.append("circle")
  .attr("cx", x(giantClumpPoint[0])).attr("cy", y(giantClumpPoint[1]))
  .attr("r", 10.5).attr("fill", "#ff0000");
svg.append("circle")
  .attr("cx", x(sourcePoint[0])).attr("cy", y(sourcePoint[1]))
  .attr("r", 10.5).attr("fill", "#0000ff");

// tick labels
var magLabels = d3.axisLeft(y).tickValues(magMajorTicks).tickSize(0).tickPadding(25);
var magLabelG = svg.append("g").attr("transform", `translate(${left}, 0)`).call(magLabels);
magLabelG.select(".domain").remove();
magLabelG.selectAll("text").attr("font-size", 42).attr("font-family", "Liberation Serif").attr("fill", "#000");

var colorLabels = d3.axisBottom(x).tickValues(colorMajorTicks).tickSize(0).tickPadding(22).tickFormat(d3.format("d"));
var colorLabelG = svg.append("g").attr("transform", `translate(0, ${bottom})`).call(colorLabels);
colorLabelG.select(".domain").remove();
colorLabelG.selectAll("text").attr("font-size", 42).attr("font-family", "Liberation Serif").attr("fill", "#000");

// panel text
svg.append("text").attr("x", 173).attr("y", 75)
  .attr("font-size", 42).attr("textLength", 255).attr("lengthAdjust", "spacing")
  .text("KMTC BLG18");
svg.append("text").attr("x", 173).attr("y", 250)
  .attr("font-size", 42).attr("fill", "#ff0000")
  .attr("textLength", 258).attr("lengthAdjust", "spacing")
  .text("giant clump");
svg.append("text").attr("x", 173).attr("y", 287)
  .attr("font-size", 42).attr("fill", "#0000ff")
  .attr("textLength", 140).attr("lengthAdjust", "spacing")
  .text("source");

// axis titles
var xTitle = svg.append("text").attr("x", 522).attr("y", 1177)
  .attr("font-size", 38).attr("textLength", 101).attr("lengthAdjust", "spacing");
xTitle.append("tspan").text("(");
xTitle.append("tspan").attr("font-style", "italic").text("V");
xTitle.append("tspan").text("\u2212");
xTitle.append("tspan").attr("font-style", "italic").text("I");
xTitle.append("tspan").text(")");

svg.append("text")
  .attr("transform", "translate(41, 633) rotate(-90)")
  .attr("text-anchor", "middle")
  .attr("font-size", 41)
  .attr("font-style", "italic")
  .text("I");
</script>
</body>
</html>
